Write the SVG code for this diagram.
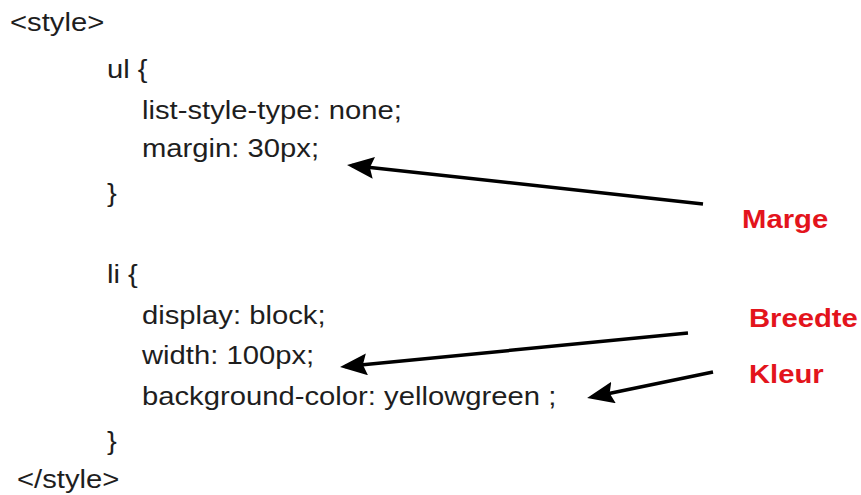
<svg xmlns="http://www.w3.org/2000/svg" width="861" height="495" viewBox="0 0 861 495">
  <style>
    .code { font-family: "Liberation Sans", Arial, sans-serif; font-size: 26px; fill: #1e1e1e; }
    .lbl { font-family: "Liberation Sans", Arial, sans-serif; font-size: 26px; font-weight: bold; fill: #e3141c; }
    .arrow { stroke: #000; stroke-width: 3.5; fill: none; marker-end: url(#head); }
  </style>
  <defs>
    <marker id="head" viewBox="0 0 27 22" refX="22" refY="11" markerWidth="27" markerHeight="22" markerUnits="userSpaceOnUse" orient="auto">
      <path d="M0,0 L27,11 L0,22 L4,11 Z" fill="#000"/>
    </marker>
  </defs>
  <rect width="861" height="495" fill="#fff"/>
  <g id="code" transform="scale(1.125,1)">
    <text class="code" x="8.9" y="31">&lt;style&gt;</text>
    <text class="code" x="95.1" y="78">ul {</text>
    <text class="code" x="126.2" y="119">list-style-type: none;</text>
    <text class="code" x="126.2" y="157">margin: 30px;</text>
    <text class="code" x="95.1" y="202">}</text>
    <text class="code" x="95.1" y="283">li {</text>
    <text class="code" x="126.2" y="324">display: block;</text>
    <text class="code" x="126.2" y="364">width: 100px;</text>
    <text class="code" x="126.2" y="405">background-color: yellowgreen ;</text>
    <text class="code" x="95.1" y="450">}</text>
    <text class="code" x="15.1" y="488">&lt;/style&gt;</text>
  </g>
  <g id="labels" transform="scale(1.125,1)">
    <g id="marge"><text class="lbl" x="659.6" y="228">Marge</text></g>
    <g id="breedte"><text class="lbl" x="665.8" y="327">Breedte</text></g>
    <g id="kleur"><text class="lbl" x="665.8" y="383">Kleur</text></g>
  </g>
  <g id="connectors">
    <line class="arrow" x1="703" y1="204" x2="352" y2="165.5"/>
    <line class="arrow" x1="688" y1="333" x2="345" y2="366.5"/>
    <line class="arrow" x1="713" y1="372" x2="592" y2="397"/>
  </g>
</svg>
